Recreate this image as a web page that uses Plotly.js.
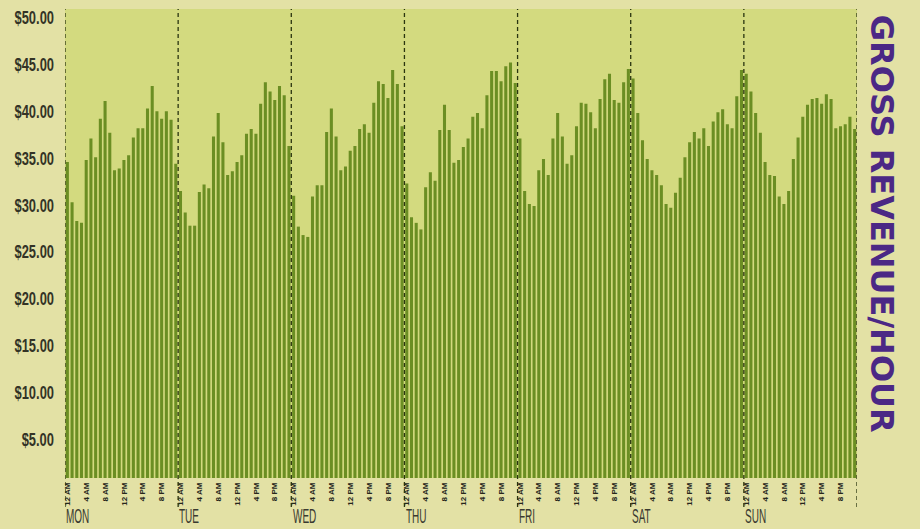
<!DOCTYPE html>
<html>
<head>
<meta charset="utf-8">
<script src="https://cdn.plot.ly/plotly-3.0.1.min.js"></script>
<style>html,body{margin:0;padding:0;background:#e3e1a5;}#chart{width:920px;height:529px;}</style>
</head>
<body>
<div id="chart"></div>
<script>
var days = ["MON", "TUE", "WED", "THU", "FRI", "SAT", "SUN"];
var hourTickLabels = ["12 AM", "4 AM", "8 AM", "12 PM", "4 PM", "8 PM"];
var hourTickHours = [0, 4, 8, 12, 16, 20];
var yTickValues = [5, 10, 15, 20, 25, 30, 35, 40, 45, 50];
var yTickLabels = ["$5.00", "$10.00", "$15.00", "$20.00", "$25.00", "$30.00", "$35.00", "$40.00", "$45.00", "$50.00"];

var mon = [33.7, 29.4, 27.4, 27.2, 33.9, 36.2, 34.2, 38.3, 40.2, 36.8, 32.8, 33.0, 33.9, 34.4, 36.3, 37.3, 37.3, 39.4, 41.8, 39.1, 38.3, 39.1, 38.2, 33.5];
var tue = [30.6, 28.3, 26.9, 26.9, 30.5, 31.3, 30.9, 36.4, 38.9, 35.8, 32.3, 32.7, 33.7, 34.4, 36.7, 37.2, 36.7, 39.9, 42.2, 41.2, 40.3, 41.8, 40.8, 35.4];
var wed = [30.1, 26.8, 25.9, 25.7, 30.0, 31.2, 31.2, 36.9, 39.4, 36.4, 32.8, 33.2, 34.9, 35.4, 37.2, 37.7, 36.8, 40.0, 42.3, 42.0, 40.5, 43.5, 42.0, 37.5];
var thu = [31.4, 27.8, 27.2, 26.5, 31.0, 32.6, 31.7, 37.1, 39.8, 37.1, 33.6, 33.9, 35.3, 36.2, 38.5, 38.9, 37.3, 40.8, 43.4, 43.4, 42.3, 43.9, 44.3, 42.1];
var fri = [36.2, 30.6, 29.2, 29.0, 32.8, 34.0, 32.3, 36.2, 38.9, 36.4, 33.5, 34.4, 37.5, 40.0, 39.9, 39.0, 37.3, 40.4, 42.5, 43.1, 40.3, 40.0, 42.2, 43.6];
var sat = [42.6, 38.9, 36.0, 34.0, 32.8, 32.3, 31.2, 29.2, 28.8, 30.4, 32.0, 34.2, 35.8, 36.9, 36.2, 37.3, 35.4, 38.0, 39.0, 39.3, 37.7, 37.3, 40.7, 43.5];
var sun = [43.1, 41.2, 38.9, 36.8, 33.7, 32.3, 32.2, 30.0, 29.2, 30.6, 34.0, 36.3, 38.5, 39.8, 40.4, 40.5, 39.9, 40.9, 40.4, 37.3, 37.5, 37.7, 38.5, 37.2];

var series = [mon, tue, wed, thu, fri, sat, sun];
var xs = [], ys = [];
series.forEach(function (arr, d) {
  arr.forEach(function (v, h) { xs.push(d * 24 + h); ys.push(v); });
});

var xTickVals = [], xTickText = [];
days.forEach(function (dname, d) {
  hourTickHours.forEach(function (h, i) { xTickVals.push(d * 24 + h); xTickText.push(hourTickLabels[i]); });
});

var shapes = [];
for (var d = 0; d <= days.length; d++) {
  shapes.push({
    type: "line", xref: "x", yref: "paper",
    x0: d * 24 - 0.5, x1: d * 24 - 0.5, y0: -0.062, y1: 1,
    line: { color: "#2a3510", width: 1.3, dash: "4px,3px" }
  });
}

var annotations = days.map(function (dname, d) {
  return {
    xref: "x", yref: "paper", x: d * 24 - 0.45, y: -0.082,
    xanchor: "left", yanchor: "middle", showarrow: false, text: dname,
    borderpad: 0,
    font: { family: "Liberation Sans, Arial, sans-serif", size: 20, color: "#3a3a30" }
  };
});
annotations.push({
  xref: "paper", yref: "paper", x: 1.031, y: 0.543,
  xanchor: "center", yanchor: "middle", showarrow: false, textangle: 90,
  text: "<b>GROSS REVENUE/HOUR</b>",
  font: { family: "DejaVu Sans, sans-serif", size: 32, color: "#4b2885" }
});

var data = [{
  type: "bar", x: xs, y: ys,
  marker: { color: "#6b8e23", line: { width: 0 } },
  hoverinfo: "none"
}];

var layout = {
  width: 920, height: 529,
  margin: { l: 65, r: 63, t: 9, b: 51 },
  paper_bgcolor: "#e3e1a5",
  plot_bgcolor: "#d3da7f",
  bargap: 0.35,
  showlegend: false,
  xaxis: {
    range: [-0.5, 167.5], tickmode: "array", tickvals: xTickVals, ticktext: xTickText,
    tickangle: -90, showgrid: false, zeroline: false, showline: false, ticks: "",
    ticklabelstandoff: 2,
    tickfont: { family: "Liberation Sans, Arial, sans-serif", size: 8, color: "#26261c", weight: "bold" }
  },
  yaxis: {
    range: [0, 50], tickmode: "array", tickvals: yTickValues, ticktext: yTickLabels,
    showgrid: false, zeroline: false, showline: false, ticks: "",
    ticklabelposition: "outside bottom", ticklabelstandoff: 10,
    tickfont: { family: "Liberation Sans, Arial, sans-serif", size: 19, color: "#333326", weight: "bold" }
  },
  shapes: shapes,
  annotations: annotations
};

function condense(nodes, s, anchor, dy) {
  nodes.forEach(function (t) {
    var b = t.getBBox();
    var ax = anchor === "right" ? b.x + b.width : b.x;
    var prev = t.getAttribute("transform") || "";
    t.setAttribute("transform", prev + " translate(" + ax + "," + (dy || 0) + ") scale(" + s + ",1) translate(" + (-ax) + ",0)");
  });
}

Plotly.newPlot("chart", data, layout, { staticPlot: true, displayModeBar: false }).then(function (gd) {
  condense(Array.prototype.slice.call(gd.querySelectorAll(".ytick text")), 0.68, "right", -5);
  var ann = Array.prototype.slice.call(gd.querySelectorAll(".annotation-text"));
  condense(ann.filter(function (t) { return days.indexOf(t.textContent) >= 0; }), 0.5, "left", 0);
});
</script>
</body>
</html>
